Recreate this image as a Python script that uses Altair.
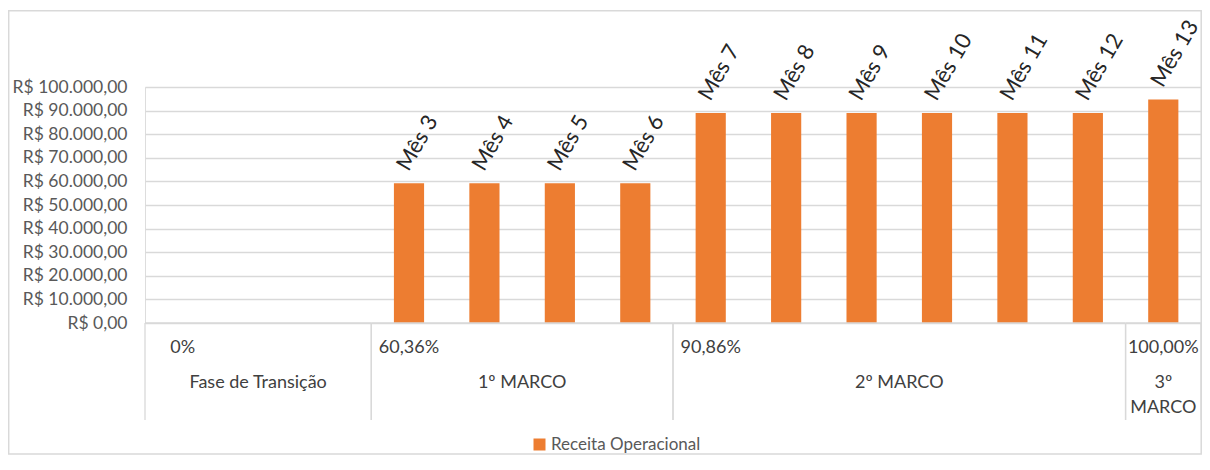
import altair as alt
import pandas as pd

# ---- data ----
meses = ["Mês 0", "Mês 1", "Mês 2", "Mês 3", "Mês 4", "Mês 5", "Mês 6",
         "Mês 7", "Mês 8", "Mês 9", "Mês 10", "Mês 11", "Mês 12", "Mês 13"]
valores = [None, None, None, 59200, 59200, 59200, 59200,
           89000, 89000, 89000, 89000, 89000, 89000, 94700]
serie = "Receita Operacional"

grupos = ["Fase de Transição", "1º MARCO", "2º MARCO", "3º\nMARCO"]
grupo_inicio = [0, 3, 7, 13]
grupo_fim = [2, 6, 12, 13]
percentuais = ["0%", "60,36%", "90,86%", "100,00%"]

y_ticks = list(range(0, 100001, 10000))

# ---- tables ----
df = pd.DataFrame({"mes": meses, "pos": list(range(len(meses))), "valor": valores, "serie": serie})
dg = pd.DataFrame({"grupo": grupos, "ini": grupo_inicio, "fim": grupo_fim, "pct": percentuais})

FONT = "Lato"
W, H = 1056, 236

xs = alt.Scale(domain=[-0.5, len(meses) - 0.5], nice=False, zero=False)
ys = alt.Scale(domain=[0, 100000], nice=False)

label_expr = ("replace(replace(replace(format(datum.value, ',.2f'), ',', '#'), '.', ','), '#', '.')")
yaxis = alt.Axis(values=y_ticks, tickCount=len(y_ticks) + 2, labelExpr="'R$ ' + " + label_expr,
                 labelFont=FONT, labelFontSize=17.5, labelColor="#595959", labelPadding=18,
                 ticks=False, domain=False, grid=True, gridColor="#D9D9D9", gridWidth=1.3,
                 title=None, labelOverlap=False, labelFlush=False, labelBound=False)

base = alt.Chart(df)

bars = base.transform_filter("isValid(datum.valor)").transform_calculate(
    x0="datum.pos - 0.2", x1="datum.pos + 0.2"
).mark_bar().encode(
    x=alt.X("x0:Q", scale=xs, axis=None),
    x2="x1:Q",
    y=alt.Y("valor:Q", scale=ys, axis=yaxis),
    y2=alt.datum(0),
    color=alt.Color("serie:N", scale=alt.Scale(range=["#ED7D31"]),
                    legend=alt.Legend(title=None, orient="none", legendX=386, legendY=349,
                                      symbolType="square", symbolSize=144, symbolStrokeWidth=0,
                                      labelFont=FONT, labelFontSize=17, labelColor="#595959",
                                      padding=0, labelOffset=3)),
)

labels = base.transform_filter("isValid(datum.valor)").mark_text(
    angle=300, align="left", baseline="alphabetic", dx=9.3, dy=-5.9,
    font=FONT, fontSize=22, color="#262626"
).encode(
    x=alt.X("pos:Q", scale=xs, axis=None),
    y=alt.Y("valor:Q", scale=ys, axis=yaxis),
    text="mes:N",
)

gbase = alt.Chart(dg).transform_calculate(
    esq="datum.ini - 0.5", dir="datum.fim + 0.5", centro="(datum.ini + datum.fim) / 2"
)

rule_l = gbase.mark_rule(color="#D9D9D9", strokeWidth=1.3).encode(
    x=alt.X("esq:Q", scale=xs, axis=None), y=alt.value(H), y2=alt.value(H + 97))
rule_r = gbase.mark_rule(color="#D9D9D9", strokeWidth=1.3).encode(
    x=alt.X("dir:Q", scale=xs, axis=None), y=alt.value(H), y2=alt.value(H + 97))
base_line = gbase.mark_rule(color="#D9D9D9", strokeWidth=1.3).encode(
    x=alt.X("esq:Q", scale=xs, axis=None), x2="dir:Q", y=alt.value(H))

pct_text = gbase.mark_text(align="center", baseline="middle", font=FONT, fontSize=18,
                           color="#404040").encode(
    x=alt.X("ini:Q", scale=xs, axis=None), y=alt.value(H + 25), text="pct:N")

grp_text = gbase.mark_text(align="center", baseline="middle", font=FONT, fontSize=18,
                           color="#404040", lineBreak="\n", lineHeight=25).encode(
    x=alt.X("centro:Q", scale=xs, axis=None), y=alt.value(H + 60), text="grupo:N")

border = alt.Chart(pd.DataFrame({"k": [0]})).mark_rect(
    fill="transparent", stroke="#D9D9D9", strokeWidth=1.5
).encode(x=alt.value(-136.3), x2=alt.value(1056.2), y=alt.value(-76.3), y2=alt.value(367))

chart = alt.layer(bars, labels, rule_l, rule_r, base_line, pct_text, grp_text, border).properties(
    width=W, height=H,
    padding={"left": 137, "top": 79, "right": 1, "bottom": 133},
    autosize=alt.AutoSizeParams(type="none"),
).configure_view(stroke=None).configure(background="white")

chart.save("out.html", embed_options={"renderer": "svg", "actions": False})
